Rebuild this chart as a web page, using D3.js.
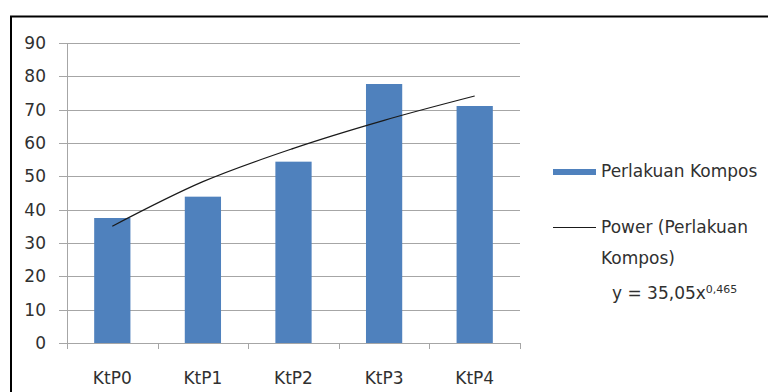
<!DOCTYPE html>
<html>
<head>
<script src="https://cdn.jsdelivr.net/npm/d3@7"></script>
<style type="text/css">
  body{
    margin: 0px;
    background: white;
  }
  text{
    font-family: 'DejaVu Sans', sans-serif;
    fill: #303030;
  }
</style>
</head>
<body>
<svg id="chart" width="768" height="392"></svg>
<script>

// data
var categories = ['KtP0', 'KtP1', 'KtP2', 'KtP3', 'KtP4'];
var values = [37.5, 43.9, 54.4, 77.7, 71.1];
// power trendline y = 35,05x^0,465 at each category
var trendValues = [35.05, 48.4, 58.4, 66.8, 74.1];
var yTicks = [0, 10, 20, 30, 40, 50, 60, 70, 80, 90];
var legendLabels = ['Perlakuan Kompos', 'Power (Perlakuan', 'Kompos)'];

var svg = d3.select('#chart');

// frame (only top and left are visible)
svg.append('path')
  .attr('d', 'M11,392 V16.5 H768')
  .attr('fill', 'none')
  .attr('stroke', 'black')
  .attr('stroke-width', 2);

var x = d3.scaleBand()
  .domain(categories)
  .range([67, 520])
  .paddingInner(0.6)
  .paddingOuter(0.3);

var xOuter = d3.scaleBand()
  .domain(categories)
  .range([67, 520]);

var y = d3.scaleLinear()
  .domain([0, 90])
  .range([343, 43]);

// gridlines
svg.append('g')
  .selectAll('line')
  .data(yTicks)
  .enter()
  .append('line')
  .attr('x1', 59)
  .attr('x2', 520)
  .attr('y1', function(d) { return Math.round(y(d)) + 0.5; })
  .attr('y2', function(d) { return Math.round(y(d)) + 0.5; })
  .attr('stroke', '#a6a6a6')
  .attr('stroke-width', 1);

// y labels
svg.append('g')
  .selectAll('text')
  .data(yTicks)
  .enter()
  .append('text')
  .attr('x', 46)
  .attr('y', function(d) { return y(d); })
  .attr('dy', '0.36em')
  .attr('text-anchor', 'end')
  .style('font-size', '17px')
  .text(function(d) { return d; });

// y axis line
svg.append('line')
  .attr('x1', 67.5).attr('x2', 67.5)
  .attr('y1', y(90)).attr('y2', y(0) + 6)
  .attr('stroke', '#a6a6a6');

// x tick marks
svg.append('g')
  .selectAll('line')
  .data(categories.slice(1).concat(['end']))
  .enter()
  .append('line')
  .attr('x1', function(d, i) { return Math.round(xOuter.range()[0] + xOuter.step() * (i + 1)) + 0.5; })
  .attr('x2', function(d, i) { return Math.round(xOuter.range()[0] + xOuter.step() * (i + 1)) + 0.5; })
  .attr('y1', y(0))
  .attr('y2', y(0) + 6)
  .attr('stroke', '#a6a6a6');

// bars
svg.append('g')
  .selectAll('rect')
  .data(values)
  .enter()
  .append('rect')
  .attr('x', function(d, i) { return x(categories[i]); })
  .attr('width', x.bandwidth())
  .attr('y', function(d) { return y(d); })
  .attr('height', function(d) { return y(0) - y(d); })
  .attr('fill', '#4f81bd');

// x labels
svg.append('g')
  .selectAll('text')
  .data(categories)
  .enter()
  .append('text')
  .attr('x', function(d) { return x(d) + x.bandwidth() / 2; })
  .attr('y', 378)
  .attr('dy', '0.36em')
  .attr('text-anchor', 'middle')
  .style('font-size', '17px')
  .text(function(d) { return d; });

// power trendline
var line = d3.line()
  .x(function(d, i) { return x(categories[i]) + x.bandwidth() / 2; })
  .y(function(d) { return y(d); })
  .curve(d3.curveMonotoneX);

svg.append('path')
  .datum(trendValues)
  .attr('d', line)
  .attr('fill', 'none')
  .attr('stroke', '#1a1a1a')
  .attr('stroke-width', 1.2);

// legend
var legend = svg.append('g');

legend.append('rect')
  .attr('x', 553).attr('y', 169)
  .attr('width', 43).attr('height', 6)
  .attr('fill', '#4f81bd');

legend.append('line')
  .attr('x1', 553).attr('x2', 596)
  .attr('y1', 227.5).attr('y2', 227.5)
  .attr('stroke', '#1a1a1a')
  .attr('stroke-width', 1.2);

legend.selectAll('text.lab')
  .data(legendLabels)
  .enter()
  .append('text')
  .attr('class', 'lab')
  .attr('x', 601)
  .attr('y', function(d, i) { return [171, 227, 258][i]; })
  .attr('dy', '0.36em')
  .style('font-size', '17px')
  .text(function(d) { return d; });

var eq = legend.append('text')
  .attr('x', 612)
  .attr('y', 293)
  .attr('dy', '0.36em')
  .style('font-size', '17px');
eq.append('tspan').text('y = 35,05x');
eq.append('tspan')
  .attr('dy', '-0.6em')
  .style('font-size', '11px')
  .text('0,465');

</script>
</body>
</html>
